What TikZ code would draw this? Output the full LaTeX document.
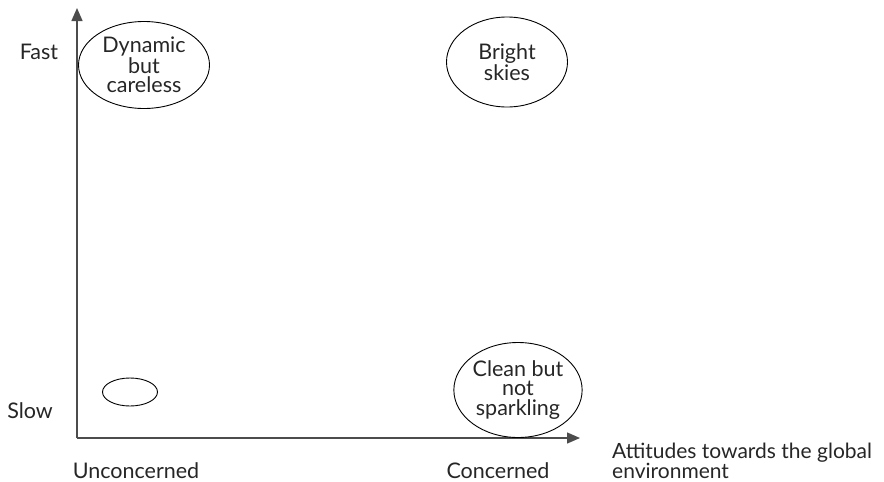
\documentclass[tikz,border=0pt]{standalone}
\usepackage{fontspec}
\setmainfont{Lato}
\usetikzlibrary{shapes.geometric,arrows.meta}
\begin{document}
\begin{tikzpicture}[x=1pt,y=-1pt,
  lbl/.style={font=\fontsize{21.5}{19}\selectfont, text=black!85, inner sep=0pt},
  oval/.style={ellipse, draw=black, line width=0.9pt, inner sep=0pt, align=center, font=\fontsize{21.5}{19.5}\selectfont, text=black!85},
  axis/.style={draw=black!70, line width=1.4pt, -{Triangle[length=13pt,width=11pt]}}]
\useasboundingbox (0,0) rectangle (884,482);
\coordinate (O) at (77,438);
\coordinate (Ytip) at (77,8);
\coordinate (Xtip) at (580,438);
\draw[axis] (O) -- (Ytip);
\draw[axis] (O) -- (Xtip);
\node[oval, minimum width=131pt, minimum height=87pt] (dyn) at (144,65) {Dynamic\\but\\careless};
\node[oval, minimum width=121pt, minimum height=90pt] (bright) at (507,62) {Bright\\skies};
\node[oval, minimum width=55pt, minimum height=28pt] (small) at (130,392) {};
\node[oval, minimum width=122pt, minimum height=95pt] (clean) at (518,390) {Clean but\\not\\sparkling};
\node[lbl] (fast) at (39,52) {Fast};
\node[lbl] (slow) at (30,411) {Slow};
\node[lbl] (uncon) at (136,471) {Unconcerned};
\node[lbl] (con) at (498,471) {Concerned};
\node[lbl, anchor=west, align=left, font=\fontsize{21}{19}\selectfont] (att) at (612,461) {Attitudes towards the global\\environment};
\end{tikzpicture}
\end{document}
